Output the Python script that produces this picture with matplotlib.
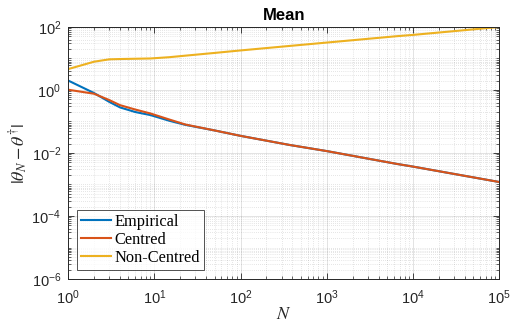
import matplotlib
matplotlib.use("Agg")
import matplotlib.pyplot as plt
from matplotlib.ticker import LogLocator, NullFormatter
import numpy as np

N = [1, 2, 3, 4, 6, 9, 15, 23, 50, 100, 370, 1000, 6500, 10000, 100000]
empirical = [2.0, 0.80, 0.42, 0.28, 0.20, 0.16, 0.105, 0.078, 0.052, 0.035,
             0.018, 0.0115, 0.0045, 0.0037, 0.0012]
centred = [1.02, 0.76, 0.48, 0.33, 0.24, 0.18, 0.115, 0.080, 0.052, 0.035,
           0.018, 0.0115, 0.0045, 0.0037, 0.0012]
non_centred = [4.6, 7.9, 9.4, 9.6, 9.8, 10.0, 11.0, 12.3, 15.0, 18.0,
               25.0, 32.0, 51.0, 56.0, 100.0]
labels = ["Empirical", "Centred", "Non-Centred"]
colors = ["#0072BD", "#D95319", "#EDB120"]

plt.rcParams["mathtext.fontset"] = "stix"
plt.rcParams["font.family"] = ["Liberation Sans", "DejaVu Sans"]

fig = plt.figure(figsize=(5.12, 3.25), dpi=100)
ax = fig.add_axes([0.133, 0.1415, 0.842, 0.7755])

for y, lab, c in zip([empirical, centred, non_centred], labels, colors):
    ax.plot(N, y, color=c, lw=1.5, label=lab)

ax.set_xscale("log")
ax.set_yscale("log")
ax.set_xlim(1, 1e5)
ax.set_ylim(1e-6, 1e2)

ax.xaxis.set_major_locator(LogLocator(base=10, numticks=20))
ax.xaxis.set_minor_locator(LogLocator(base=10, subs=np.arange(2, 10), numticks=100))
ax.yaxis.set_major_locator(LogLocator(base=100, numticks=20))
ax.yaxis.set_minor_locator(LogLocator(base=10, subs=np.arange(1, 10), numticks=100))
ax.xaxis.set_minor_formatter(NullFormatter())
ax.yaxis.set_minor_formatter(NullFormatter())

ax.grid(which="major", color="#000000", alpha=0.13, lw=0.6, ls="-")
ax.grid(which="minor", color="#000000", alpha=0.2, lw=0.5, ls=(0, (1, 2)))
ax.set_axisbelow(True)

ax.tick_params(which="both", direction="in", top=True, right=True,
               colors="#262626", labelsize=10.5)
ax.tick_params(axis="x", which="major", pad=7)
ax.tick_params(axis="y", which="major", pad=5)
ax.tick_params(which="major", length=4, width=0.6)
ax.tick_params(which="minor", length=2, width=0.5)
for s in ax.spines.values():
    s.set_color("#262626")
    s.set_linewidth(0.7)

ax.set_title("Mean", fontsize=12, fontweight="bold", pad=5)
ax.set_xlabel(r"$N$", fontsize=13, color="#262626", labelpad=-1)
ax.set_ylabel(r"$|\theta_N-\theta^{\dagger}|$", fontsize=13, color="#262626", labelpad=1)

leg = ax.legend(loc="lower left", prop={"family": "Liberation Serif", "size": 11.8},
                frameon=True, fancybox=False, edgecolor="#262626",
                handlelength=1.8, handletextpad=0.25, borderpad=0.25,
                labelspacing=0.12, borderaxespad=0.55)
leg.get_frame().set_linewidth(0.7)

fig.savefig("out.png", dpi=100)
